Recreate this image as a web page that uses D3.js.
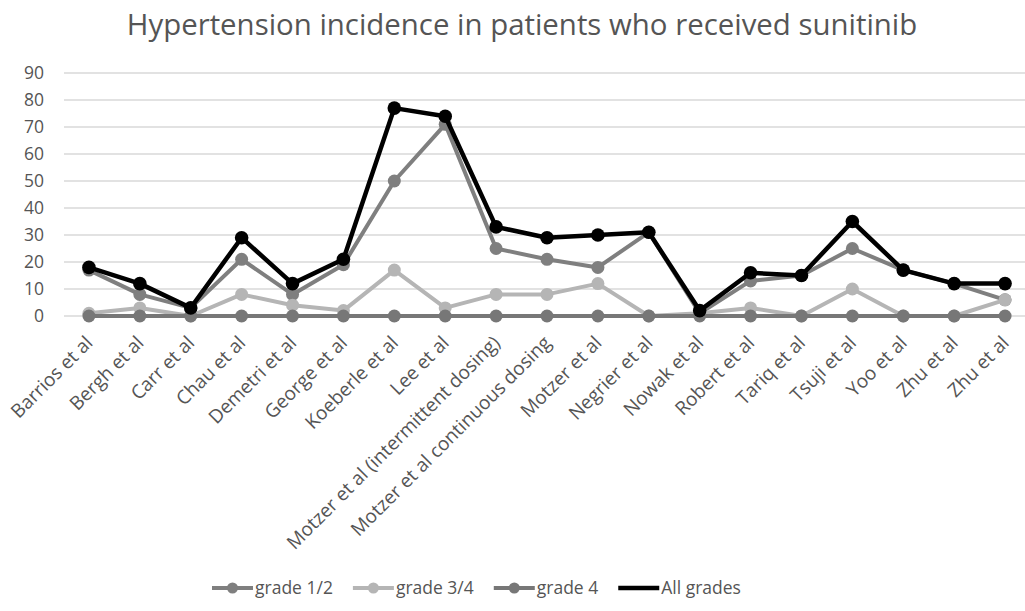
<!DOCTYPE html>
<html>
<head>
<meta charset="utf-8">
<script src="https://cdn.jsdelivr.net/npm/d3@7"></script>
<style>
  html, body { margin: 0; padding: 0; background: #fff; }
  svg { display: block; font-family: "Open Sans", "DejaVu Sans", sans-serif; }
</style>
</head>
<body>
<svg id="chart" width="1025" height="611"></svg>
<script>
// Studies reporting hypertension with sunitinib
const categories = [
  "Barrios et al", "Bergh et al", "Carr et al", "Chau et al", "Demetri et al",
  "George et al", "Koeberle et al", "Lee et al",
  "Motzer et al (intermittent dosing)", "Motzer et al continuous dosing",
  "Motzer et al", "Negrier et al", "Nowak et al", "Robert et al", "Tariq et al",
  "Tsuji et al", "Yoo et al", "Zhu et al", "Zhu et al"
];

// Incidence (%) by grade
const grade12   = [17, 8, 3, 21, 8, 19, 50, 71, 25, 21, 18, 31, 1, 13, 15, 25, 17, 12, 6];
const grade34   = [1, 3, 0, 8, 4, 2, 17, 3, 8, 8, 12, 0, 1, 3, 0, 10, 0, 0, 6];
const grade4    = [0, 0, 0, 0, 0, 0, 0, 0, 0, 0, 0, 0, 0, 0, 0, 0, 0, 0, 0];
const allGrades = [18, 12, 3, 29, 12, 21, 77, 74, 33, 29, 30, 31, 2, 16, 15, 35, 17, 12, 12];

const seriesNames = ["grade 1/2", "grade 3/4", "grade 4", "All grades"];
const yTicks = [0, 10, 20, 30, 40, 50, 60, 70, 80, 90];
const titleText = "Hypertension incidence in patients who received sunitinib";

const seriesList = [
  { name: seriesNames[0], values: grade12,   color: "#7f7f7f", width: 4,   r: 6.5, legendMarker: true },
  { name: seriesNames[1], values: grade34,   color: "#b5b5b5", width: 4,   r: 6.5, legendMarker: true },
  { name: seriesNames[2], values: grade4,    color: "#777777", width: 4,   r: 6.5, legendMarker: true },
  { name: seriesNames[3], values: allGrades, color: "#000000", width: 4.5, r: 6.8, legendMarker: false }
];

const svg = d3.select("#chart");
const textColor = "#555555";

// Scales
const x = d3.scaleBand().domain(d3.range(categories.length)).range([63.5, 1030.5]);
const cx = i => x(i) + x.bandwidth() / 2;
const y = d3.scaleLinear().domain([0, 90]).range([316, 73]);

// Title, sized to its measured span
const title = svg.append("text")
  .attr("x", 522).attr("y", 35)
  .attr("text-anchor", "middle")
  .attr("fill", textColor)
  .style("font-size", "28px")
  .text(titleText);
const tw = title.node().getComputedTextLength();
title.style("font-size", (28 * 791 / tw) + "px");

// Gridlines and y-axis labels
const yAxis = d3.axisLeft(y).tickValues(yTicks).tickSize(0).tickPadding(0);
const yg = svg.append("g").attr("transform", "translate(44,0)").call(yAxis);
yg.select(".domain").remove();
yg.selectAll("text")
  .attr("fill", textColor)
  .style("font-size", "17.5px")
  .style("font-family", "'Open Sans', sans-serif");

svg.append("g").selectAll("line").data(yTicks).join("line")
  .attr("x1", 64).attr("x2", 1030)
  .attr("y1", d => y(d)).attr("y2", d => y(d))
  .attr("stroke", "#d9d9d9").attr("stroke-width", 1.5);

// Category labels, rotated
const xAxis = d3.axisBottom(x).tickSize(0).tickFormat(i => categories[i]);
const xg = svg.append("g").attr("transform", "translate(0,316)").call(xAxis);
xg.select(".domain").remove();
xg.selectAll(".tick text")
  .attr("fill", textColor)
  .style("font-size", "19px")
  .style("font-family", "'Open Sans', sans-serif")
  .attr("text-anchor", "end")
  .attr("y", 0).attr("dy", 0)
  .attr("transform", "translate(5,28) rotate(-45)");

// Series lines and markers
const line = d3.line().x((d, i) => cx(i)).y(d => y(d));
seriesList.forEach(s => {
  const g = svg.append("g");
  g.append("path")
    .datum(s.values)
    .attr("d", line)
    .attr("fill", "none")
    .attr("stroke", s.color)
    .attr("stroke-width", s.width)
    .attr("stroke-linejoin", "round");
  g.selectAll("circle").data(s.values).join("circle")
    .attr("cx", (d, i) => cx(i))
    .attr("cy", d => y(d))
    .attr("r", s.r)
    .attr("fill", s.color);
});

// Legend
const legend = svg.append("g").attr("transform", "translate(0,588)");
let lx = 212;
seriesList.forEach(s => {
  const item = legend.append("g").attr("transform", `translate(${lx},0)`);
  item.append("line")
    .attr("x1", 0).attr("x2", 41).attr("y1", 0).attr("y2", 0)
    .attr("stroke", s.color).attr("stroke-width", s.width);
  if (s.legendMarker) {
    item.append("circle").attr("cx", 20.5).attr("cy", 0).attr("r", 5.5).attr("fill", s.color);
  }
  const t = item.append("text")
    .attr("x", 43).attr("y", 0).attr("dy", "0.35em")
    .attr("fill", textColor)
    .style("font-size", "17.5px")
    .text(s.name);
  lx += 43 + t.node().getComputedTextLength() + 20;
});
</script>
</body>
</html>
